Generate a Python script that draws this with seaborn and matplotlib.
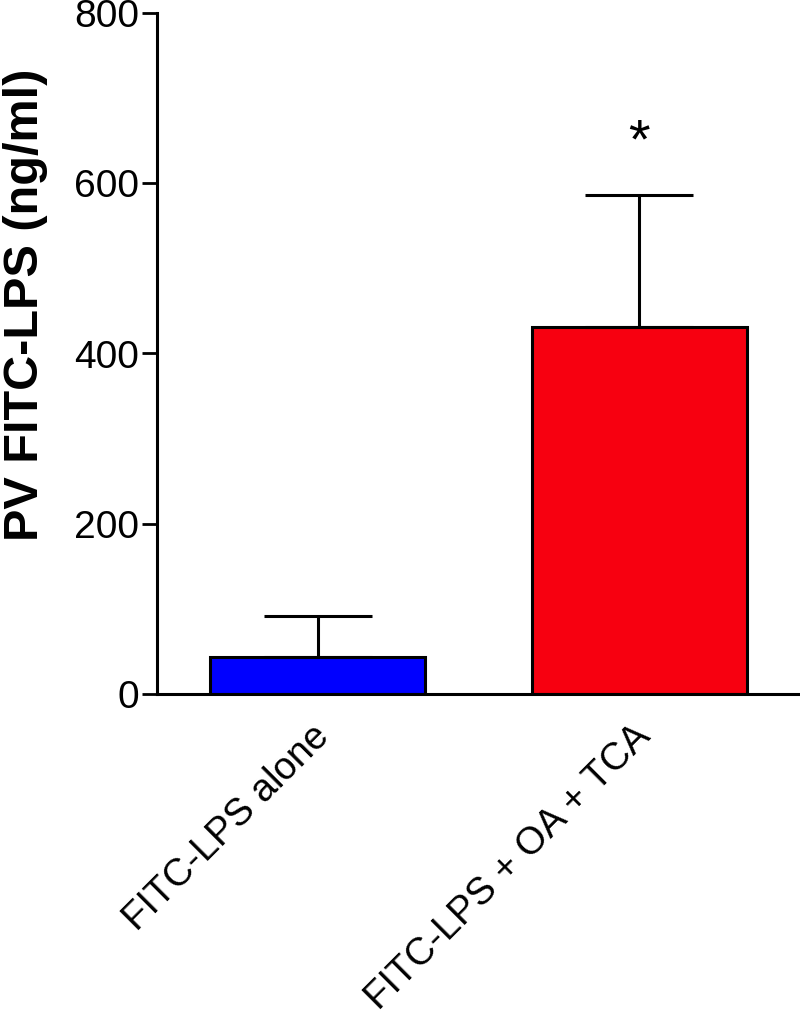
import matplotlib
matplotlib.use("Agg")
import matplotlib.pyplot as plt
import matplotlib.transforms as mtransforms
import numpy as np
import pandas as pd
import seaborn as sns

# values
groups = ["FITC-LPS alone", "FITC-LPS + OA + TCA"]
means = [43.5, 431.0]
sems = [48.0, 155.0]
bar_colors = ["#0000FF", "#F70010"]
star_y = 647
y_ticks = [0, 200, 400, 600, 800]

sns.set_theme(style="ticks")
plt.rcParams["font.family"] = ["Liberation Sans", "DejaVu Sans"]
plt.rcParams.update({"text.color": "black", "axes.labelcolor": "black",
                     "xtick.color": "black", "ytick.color": "black"})

df = pd.DataFrame({"group": groups, "mean": means})

fig = plt.figure(figsize=(8, 10.19), dpi=100)
ax = fig.add_axes([157 / 800, 325 / 1019, 643 / 800, 681 / 1019])

sns.barplot(data=df, x="group", y="mean", hue="group", palette=bar_colors,
            saturation=1, width=0.67, edgecolor="black", linewidth=2.2,
            legend=False, ax=ax)

x = np.arange(len(groups))
ax.errorbar(x, means, yerr=[np.zeros(len(sems)), sems], fmt="none",
            ecolor="black", elinewidth=2.2, capsize=39, capthick=2.2, zorder=1)

ax.text(1, star_y, "*", ha="center", va="center", fontsize=40)

ax.set_xlim(-0.5, 1.5)
ax.set_ylim(0, 800)
ax.set_yticks(y_ticks)
ax.set_xlabel("")
ax.set_ylabel("PV FITC-LPS (ng/ml)", fontsize=35, fontweight="bold")
ax.yaxis.set_label_coords(-0.17, 0.571)

ax.tick_params(axis="y", labelsize=28, length=11, width=2, pad=2)
ax.tick_params(axis="x", labelsize=27.5, length=0, pad=14)
# nudge the rotated group labels a little left and down
shift = mtransforms.ScaledTranslation(-7 / 100, -5 / 100, fig.dpi_scale_trans)
for lab in ax.get_xticklabels():
    lab.set_rotation(45)
    lab.set_ha("right")
    lab.set_rotation_mode("anchor")
    lab.set_transform(lab.get_transform() + shift)

sns.despine(ax=ax)
for side in ["left", "bottom"]:
    ax.spines[side].set_linewidth(2.2)
    ax.spines[side].set_color("black")

fig.savefig("out.png", dpi=100)
